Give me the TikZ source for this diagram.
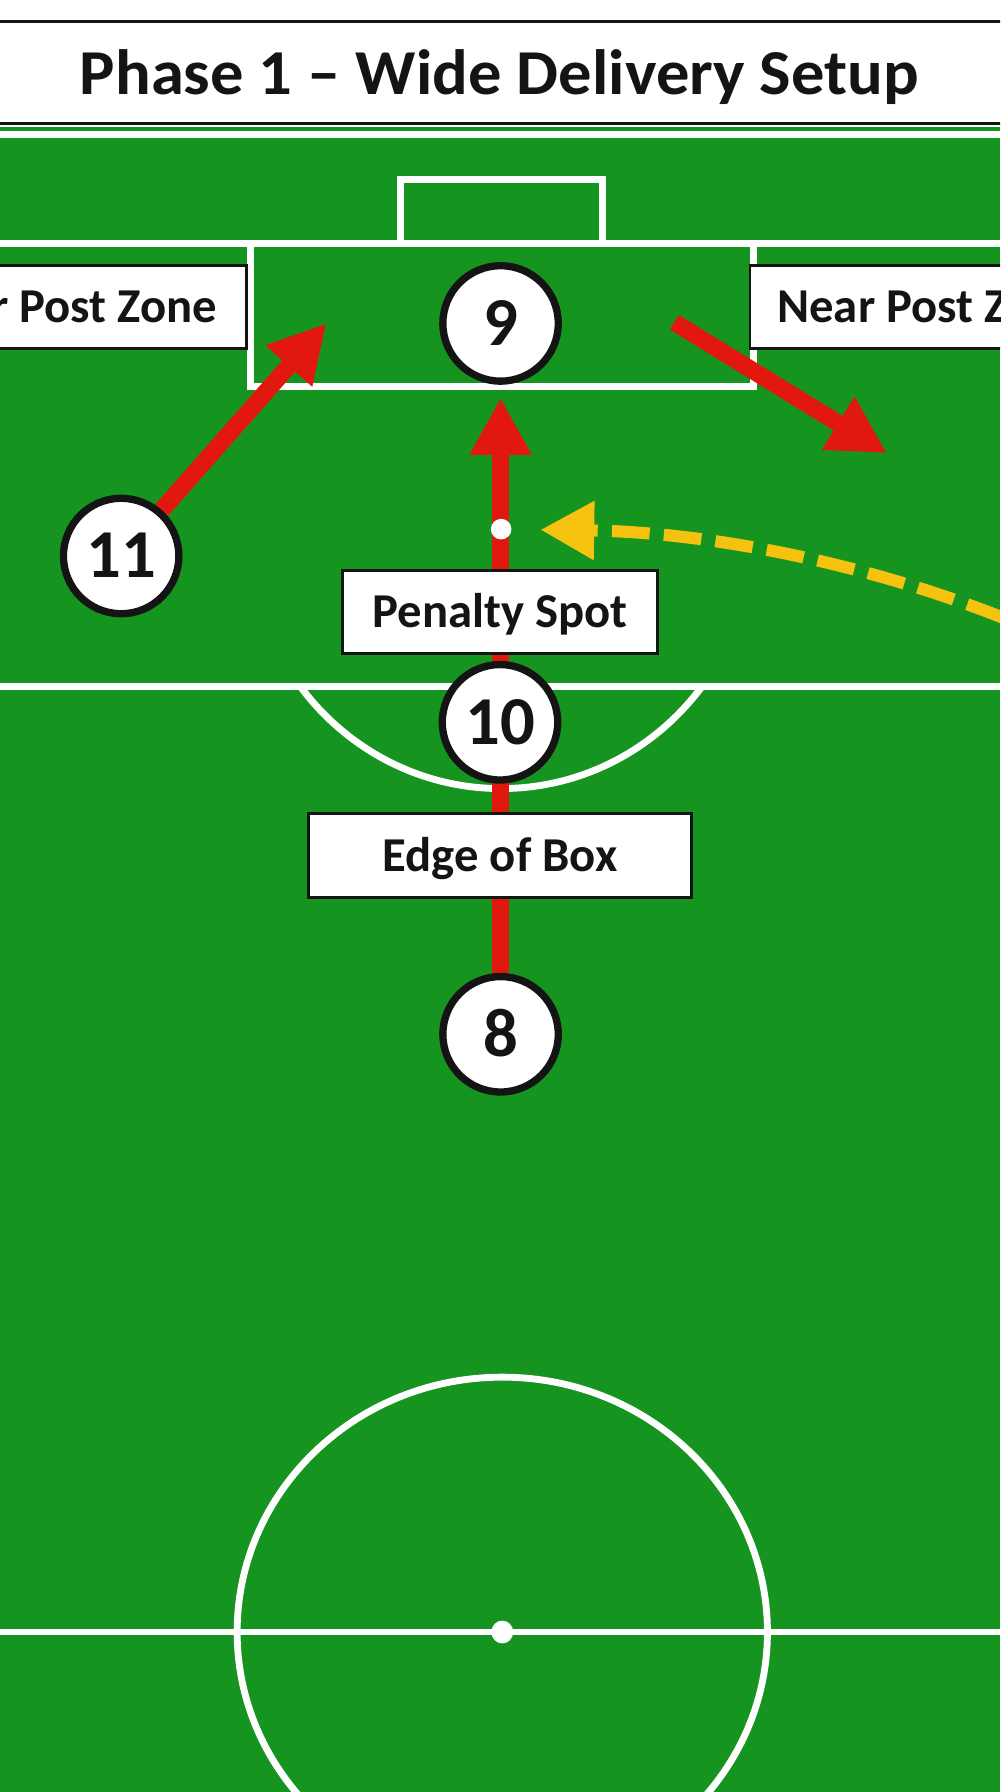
\documentclass[tikz,border=0pt]{standalone}
\usepackage{fontspec}
\setmainfont{Carlito}
\newfontfamily\titlefont{Carlito}[FakeStretch=1.04]
\usetikzlibrary{arrows.meta}
\definecolor{pitch}{RGB}{22,148,32}
\definecolor{runred}{RGB}{226,24,14}
\definecolor{ballyel}{RGB}{246,194,16}
\definecolor{ink}{RGB}{20,20,20}
\pgfdeclarelayer{fieldlayer}
\pgfdeclarelayer{pathlayer}
\pgfsetlayers{fieldlayer,pathlayer,main}
\tikzset{
  pitchline/.style={draw=white, line width=3pt},
  player/.style={circle, draw=ink, line width=3.2pt, fill=white, minimum size=50.5pt,
    inner sep=0pt, text=ink, font=\bfseries\fontsize{30}{32}\selectfont,
    text height=19pt, text depth=0pt},
  zonelabel/.style={rectangle, draw=ink, line width=1.2pt, fill=white, minimum height=36.5pt,
    inner ysep=0pt, text=ink, font=\bfseries\fontsize{21.3}{24}\selectfont,
    text height=13.7pt, text depth=0pt},
  runarrow/.style={draw=runred, line width=7.5pt, -{Triangle[length=25pt,width=25.5pt]}},
  passarrow/.style={draw=ballyel, line width=5.3pt, dash pattern=on 16.5pt off 6.25pt,
    -{Triangle[length=23.5pt,width=24.5pt]}},
}
\begin{document}
\begin{tikzpicture}[x=0.5pt,y=-0.5pt]
\useasboundingbox (0,0) rectangle (875,1568);
% ---------- pitch ----------
\begin{pgfonlayer}{fieldlayer}
\clip (0,0) rectangle (875,1568);
\fill[white] (0,0) rectangle (875,1568);
\fill[pitch] (0,111) rectangle (875,1568);
\draw[ink, line width=1.25pt] (-10,19) -- (885,19) (-10,108) -- (885,108);
\draw[pitchline] (0,117.5) -- (875,117.5);
\draw[pitchline] (350.5,213) -- (350.5,157) -- (527.5,157) -- (527.5,213);
\draw[pitchline] (0,213) -- (875,213);
\draw[pitchline] (219.5,213) -- (219.5,338.5) -- (659,338.5) -- (659,213);
\draw[pitchline] (0,600.5) -- (875,600.5);
\begin{scope}
  \clip (0,600.5) rectangle (875,900);
  \draw[pitchline] (438.5,463) ellipse [x radius=221, y radius=227];
\end{scope}
\draw[pitchline] (0,1428) -- (875,1428);
\draw[pitchline] (439.5,1428) ellipse [x radius=232, y radius=223];
\fill[white] (439.5,1428) ellipse [x radius=9.5, y radius=10];
\end{pgfonlayer}
% ---------- nodes ----------
\clip (0,0) rectangle (875,1568);
\node[font=\titlefont\bfseries\fontsize{28}{32}\selectfont, text=ink, anchor=base] (title) at (437,83) {Phase 1 – Wide Delivery Setup};
\node[zonelabel, anchor=east, inner xsep=13pt] (far) at (217,268.5) {Far Post Zone};
\node[zonelabel, anchor=west, inner xsep=12pt] (near) at (655,268.5) {Near Post Zone};
\node[player] (n9) at (438,283) {9};
\node[player] (n11) at (106,486.5) {11};
\node[player] (n10) at (437.5,632) {10};
\node[player] (n8) at (438,905) {8};
\node[circle, fill=white, minimum size=9pt, inner sep=0pt] (spot) at (438.5,463) {};
\node[zonelabel, minimum width=137.5pt] (pspot) at (437.5,535.5) {Penalty Spot};
\node[zonelabel, minimum width=167.5pt] (edge) at (437.5,748.5) {Edge of Box};
% ---------- runs and ball ----------
\begin{pgfonlayer}{pathlayer}
\clip (0,0) rectangle (875,1568);
\coordinate (farTip) at (285.7,282.8);
\coordinate (nearStart) at (590,282);
\coordinate (nearTip) at (776,396.5);
\coordinate (ballFrom) at (960,578);
\draw[runarrow] (n11) -- (farTip);
\draw[runarrow] (nearStart) -- (nearTip);
\draw[runarrow, shorten >=5.7pt] (n8) -- (n9);
\draw[passarrow, shorten >=12.5pt] (ballFrom) .. controls (820,505) and (640,466) .. (spot);
\end{pgfonlayer}
\end{tikzpicture}
\end{document}
